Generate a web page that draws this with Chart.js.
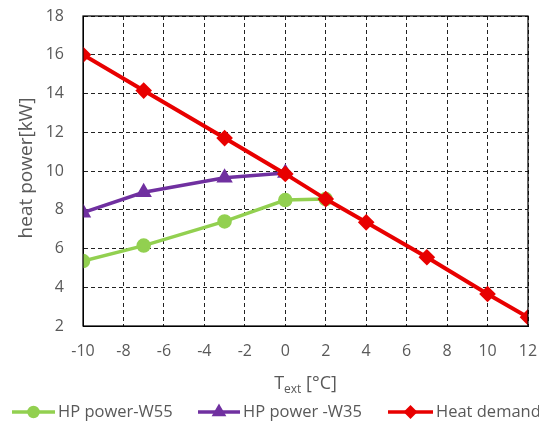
<!DOCTYPE html>
<html><head><meta charset="utf-8">
<script src="https://cdn.jsdelivr.net/npm/chart.js@4/dist/chart.umd.min.js"></script>
<style>html,body{margin:0;padding:0;background:#fff;}#wrap{width:539px;height:423px;position:relative;}</style>
</head><body><div id="wrap"><canvas id="c" width="539" height="423"></canvas></div>
<script>
const tempsW55 = [-10, -7, -3, 0, 2];
const valuesW55 = [5.35, 6.15, 7.4, 8.5, 8.55];
const tempsW35 = [-10, -7, -3, 0];
const valuesW35 = [7.85, 8.9, 9.65, 9.9];
const tempsDemand = [-10, -7, -3, 0, 2, 4, 7, 10, 12];
const valuesDemand = [16, 14.15, 11.7, 9.85, 8.55, 7.35, 5.55, 3.65, 2.45];
const seriesNames = ["HP power-W55", "HP power -W35", "Heat demand"];
const yTitle = "heat power[kW]";
const xTitleMain = "T", xTitleSub = "ext", xTitleRest = " [°C]";

const toXY = (xs, ys) => xs.map((x, i) => ({x: x, y: ys[i]}));
const TXT = '#595959';
const FONT = '"Open Sans", sans-serif';

function drawExtras(chart) {
  const {ctx, chartArea: a} = chart;
  ctx.save();
  ctx.strokeStyle = '#000'; ctx.lineWidth = 1.2; ctx.setLineDash([]);
  ctx.strokeRect(a.left, a.top, a.right - a.left, a.bottom - a.top);
  // x title with subscript
  const cx = (a.left + a.right) / 2;
  const y = 384;
  ctx.fillStyle = TXT; ctx.textBaseline = 'middle';
  ctx.font = '18px ' + FONT;
  const w1 = ctx.measureText(xTitleMain).width;
  const w3 = ctx.measureText(xTitleRest).width;
  ctx.font = '12px ' + FONT;
  const w2 = ctx.measureText(xTitleSub).width;
  let x0 = cx - (w1 + w2 + w3) / 2;
  ctx.textAlign = 'left';
  ctx.font = '18px ' + FONT; ctx.fillText(xTitleMain, x0, y);
  ctx.font = '12px ' + FONT; ctx.fillText(xTitleSub, x0 + w1, y + 6);
  ctx.font = '18px ' + FONT; ctx.fillText(xTitleRest, x0 + w1 + w2, y);
  // y title
  ctx.save();
  ctx.translate(27, (a.top + a.bottom) / 2 - 3);
  ctx.rotate(-Math.PI / 2);
  ctx.textAlign = 'center';
  ctx.font = '19px ' + FONT;
  ctx.fillText(yTitle, 0, 0);
  ctx.restore();
  // legend
  const items = [
    {x1: 12, x2: 55, tx: 58},
    {x1: 198, x2: 240, tx: 243},
    {x1: 388, x2: 433, tx: 436}
  ];
  const ly = 412;
  chart.data.datasets.forEach((ds, i) => {
    const it = items[i];
    ctx.strokeStyle = ds.borderColor; ctx.lineWidth = 3.5;
    ctx.beginPath(); ctx.moveTo(it.x1, ly); ctx.lineTo(it.x2, ly); ctx.stroke();
    ctx.save();
    ctx.fillStyle = ds.borderColor; ctx.strokeStyle = ds.borderColor;
    Chart.helpers.drawPoint(ctx, {pointStyle: ds.pointStyle, radius: ds.pointRadius - 1, borderWidth: 1}, (it.x1 + it.x2) / 2, ly);
    ctx.restore();
    ctx.fillStyle = TXT; ctx.font = '16.5px ' + FONT; ctx.textAlign = 'left'; ctx.textBaseline = 'middle';
    ctx.fillText(ds.label, it.tx, ly);
  });
  ctx.restore();
}

const mk = (label, xs, ys, color, style, r, bw, order) => ({
  label: label, data: toXY(xs, ys), borderColor: color, backgroundColor: color,
  pointBackgroundColor: color, pointBorderColor: color, borderWidth: bw,
  pointStyle: style, pointRadius: r, pointHoverRadius: r, tension: 0, showLine: true, order: order
});

new Chart(document.getElementById('c'), {
  type: 'scatter',
  data: {
    datasets: [
      mk(seriesNames[0], tempsW55, valuesW55, '#92D050', 'circle', 5.5, 3.5, 2),
      mk(seriesNames[1], tempsW35, valuesW35, '#7030A0', 'triangle', 6, 3.5, 1),
      mk(seriesNames[2], tempsDemand, valuesDemand, '#E80000', 'rectRot', 5.5, 4, 0)
    ]
  },
  options: {
    responsive: false, animation: false, devicePixelRatio: 1,
    layout: {padding: {left: 0, right: 11, top: 16, bottom: 0}},
    plugins: {legend: {display: false}, tooltip: {enabled: false}},
    scales: {
      x: {
        type: 'linear', min: -10, max: 12,
        ticks: {stepSize: 2, color: TXT, font: {family: FONT, size: 16}, padding: 16},
        grid: {color: '#222', lineWidth: 1, drawTicks: false},
        border: {display: true, color: '#000', dash: [4, 3]},
        afterFit(s) { s.height = 97; s.paddingLeft = 0; s.paddingRight = 0; }
      },
      y: {
        min: 2, max: 18,
        ticks: {stepSize: 2, color: TXT, font: {family: FONT, size: 16}, padding: 19},
        grid: {color: '#222', lineWidth: 1, drawTicks: false},
        border: {display: true, color: '#000', dash: [4, 3]},
        afterFit(s) { s.width = 83; s.paddingTop = 0; s.paddingBottom = 0; }
      }
    }
  },
  plugins: [{ id: 'extras', afterDraw: drawExtras }]
});
</script></body></html>
